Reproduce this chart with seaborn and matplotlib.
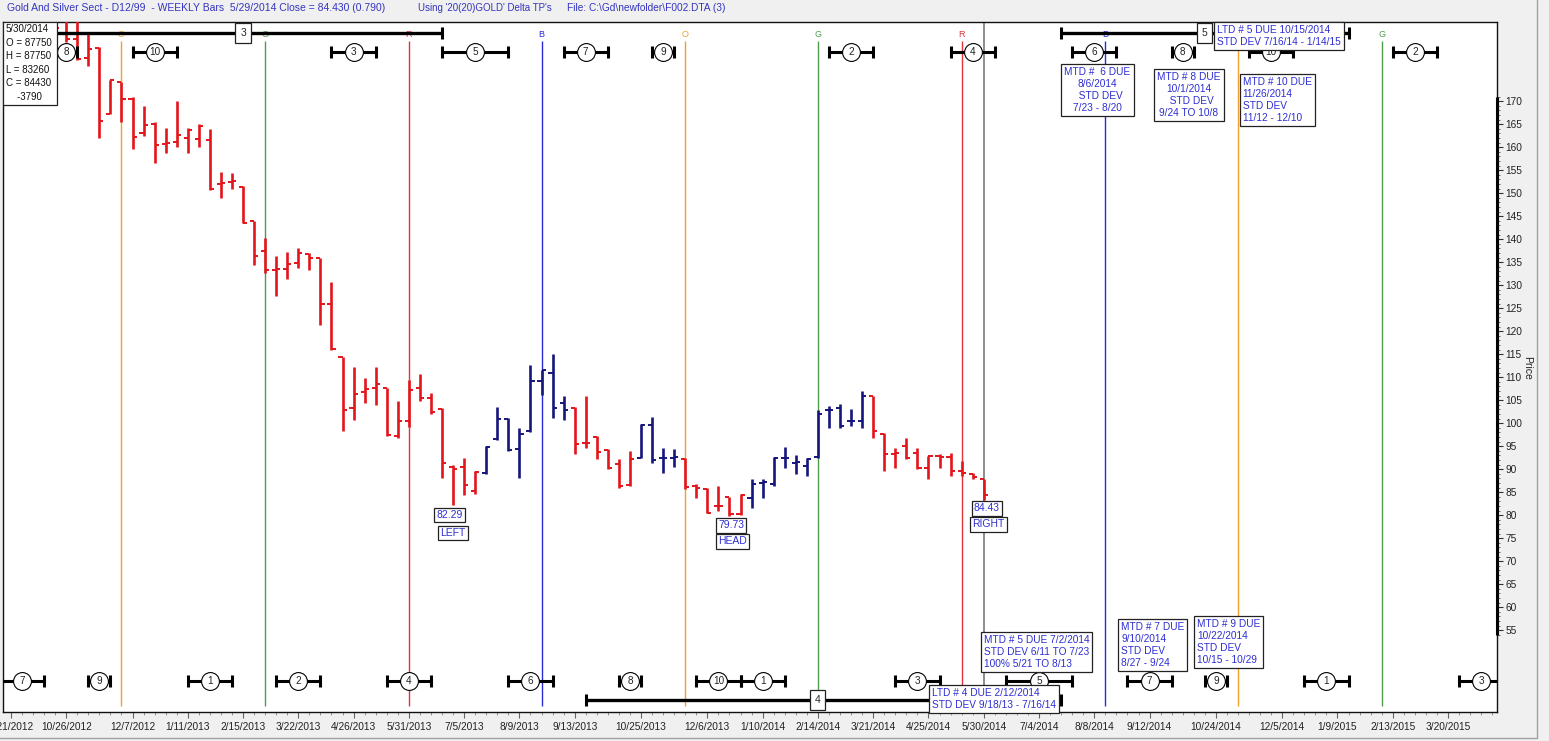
import numpy as np
import pandas as pd
import matplotlib
matplotlib.use("Agg")
import matplotlib.pyplot as plt
import matplotlib.dates as mdates
from matplotlib.lines import Line2D
from matplotlib.patches import Rectangle
import seaborn as sns

# weekly bars (Fridays) 10/19/2012 .. 5/30/2014
bar_dates = pd.date_range("2012-10-19", "2014-05-30", freq="7D")
opens = [190.0, 189.0, 183.5, 179.4, 181.6, 167.2, 174.1, 170.5, 163.0, 165.0,
         160.6, 161.1, 161.9, 161.7, 161.5, 151.9, 152.4, 151.3, 143.9, 137.5,
         133.2, 133.6, 134.9, 136.7, 135.8, 126.0, 114.4, 103.3, 106.8, 107.7,
         107.7, 97.2, 100.5, 107.7, 105.5, 103.1, 90.5, 90.5, 85.2, 89.2,
         96.6, 100.9, 94.4, 98.3, 109.2, 111.0, 104.4, 103.3, 95.7, 97.0,
         94.2, 91.1, 86.6, 92.4, 99.6, 92.4, 92.4, 92.2, 86.3, 85.7,
         82.0, 83.9, 80.2, 83.7, 87.0, 86.8, 92.4, 91.4, 90.7, 92.7,
         102.9, 103.3, 100.5, 100.5, 105.8, 97.7, 93.3, 95.0, 93.5, 90.3,
         92.9, 92.7, 89.6, 89.0, 87.75]
highs = [195.0, 194.0, 192.0, 184.8, 181.8, 174.6, 174.1, 170.9, 168.9, 165.4,
         164.1, 170.0, 164.1, 165.0, 163.9, 154.5, 154.3, 151.5, 143.9, 140.3,
         136.4, 137.1, 138.0, 136.9, 135.8, 130.6, 114.4, 112.3, 109.9, 112.3,
         107.7, 104.9, 109.4, 110.7, 106.6, 103.3, 90.9, 92.4, 89.6, 95.0,
         103.5, 101.2, 99.0, 112.7, 111.6, 115.1, 106.0, 103.5, 106.0, 97.2,
         94.4, 92.2, 94.0, 99.9, 101.4, 94.6, 94.4, 92.4, 86.8, 85.9,
         86.3, 83.9, 84.6, 87.8, 87.8, 92.7, 94.8, 93.1, 92.4, 102.9,
         103.8, 104.2, 103.1, 107.0, 106.0, 97.9, 94.6, 96.8, 94.6, 92.9,
         93.3, 93.5, 91.8, 89.2, 87.75]
lows = [184.5, 182.8, 179.0, 177.6, 161.9, 167.2, 165.4, 159.5, 162.4, 156.6,
        158.7, 160.0, 158.7, 160.0, 150.6, 148.9, 151.0, 143.4, 134.3, 132.7,
        127.7, 131.4, 133.8, 133.2, 121.4, 116.0, 98.3, 100.7, 104.4, 104.0,
        97.2, 96.8, 99.2, 104.9, 102.0, 88.1, 82.29, 84.4, 84.6, 88.9,
        96.4, 94.0, 88.1, 98.1, 106.2, 101.2, 100.7, 93.3, 94.6, 92.2,
        90.0, 85.9, 86.3, 92.4, 91.4, 89.2, 90.5, 85.7, 83.7, 80.5,
        80.9, 79.73, 80.0, 81.5, 83.7, 86.3, 90.3, 89.0, 88.5, 92.4,
        99.0, 99.0, 99.4, 99.0, 96.8, 89.6, 90.3, 92.2, 90.0, 87.8,
        90.3, 88.5, 88.5, 87.8, 83.26]
closes = [185.9, 183.5, 179.2, 181.3, 165.6, 174.6, 170.4, 162.2, 164.8, 160.4,
          160.8, 162.6, 163.7, 164.6, 150.8, 152.1, 152.6, 143.6, 136.4, 133.2,
          133.4, 134.7, 136.9, 135.8, 126.0, 116.2, 102.9, 106.4, 107.5, 108.6,
          97.5, 100.5, 107.3, 105.5, 102.5, 91.4, 90.1, 86.5, 89.4, 94.8,
          100.9, 94.2, 97.7, 109.2, 111.6, 103.3, 102.9, 95.5, 95.7, 93.8,
          90.3, 86.3, 92.2, 99.6, 92.0, 92.4, 92.6, 86.1, 85.9, 80.5,
          82.0, 80.2, 84.4, 86.8, 87.2, 92.4, 92.4, 91.6, 92.2, 102.0,
          102.9, 99.4, 100.5, 106.0, 98.3, 93.3, 93.5, 92.4, 90.3, 92.9,
          92.7, 89.6, 89.2, 88.22, 84.43]
# trend runs: first bar of each coloured run
trend_runs = [("2012-10-19", "red"), ("2013-07-19", "blue"), ("2013-09-13", "red"),
              ("2013-10-25", "blue"), ("2013-11-22", "red"), ("2014-01-03", "blue"),
              ("2014-03-21", "red")]

# cycle turn lines
cycle_dates = ["2012-11-30", "2013-03-01", "2013-05-31", "2013-08-23", "2013-11-22",
               "2014-02-14", "2014-05-16", "2014-08-15", "2014-11-07", "2015-02-06"]
cycle_letters = ["O", "G", "R", "B", "O", "G", "R", "B", "O", "G"]

# MTD ranges, top row / bottom row (centre date, number, half width in days)
top_dates = ["2012-10-26", "2012-12-21", "2013-04-26", "2013-07-12", "2013-09-20", "2013-11-08",
             "2014-03-07", "2014-05-23", "2014-08-08", "2014-10-03", "2014-11-28", "2015-02-27"]
top_nums = [8, 10, 3, 5, 7, 9, 2, 4, 6, 8, 10, 2]
top_half = [7, 14, 14, 21, 14, 7, 14, 14, 14, 7, 14, 14]
bot_dates = ["2012-09-28", "2012-11-16", "2013-01-25", "2013-03-22", "2013-05-31", "2013-08-16",
             "2013-10-18", "2013-12-13", "2014-01-10", "2014-04-18", "2014-07-04", "2014-09-12",
             "2014-10-24", "2015-01-02", "2015-04-10"]
bot_nums = [7, 9, 1, 2, 4, 6, 8, 10, 1, 3, 5, 7, 9, 1, 3]
bot_half = [14, 7, 14, 14, 14, 14, 7, 14, 14, 14, 21, 14, 7, 14, 14]

# LTD ranges
ltd_nums = [3, 4, 5]
ltd_due = ["2013-02-15", "2014-02-14", "2014-10-17"]
ltd_start = ["2012-10-12", "2013-09-20", "2014-07-18"]
ltd_end = ["2013-06-21", "2014-07-18", "2015-01-16"]
ltd_row = ["top", "bottom", "top"]

tick_dates = ["2012-09-21", "2012-10-26", "2012-12-07", "2013-01-11", "2013-02-15", "2013-03-22",
              "2013-04-26", "2013-05-31", "2013-07-05", "2013-08-09", "2013-09-13", "2013-10-25",
              "2013-12-06", "2014-01-10", "2014-02-14", "2014-03-21", "2014-04-25", "2014-05-30",
              "2014-07-04", "2014-08-08", "2014-09-12", "2014-10-24", "2014-12-05", "2015-01-09",
              "2015-02-13", "2015-03-20"]
tick_labels = ["9/21/2012", "10/26/2012", "12/7/2012", "1/11/2013", "2/15/2013", "3/22/2013",
               "4/26/2013", "5/31/2013", "7/5/2013", "8/9/2013", "9/13/2013", "10/25/2013",
               "12/6/2013", "1/10/2014", "2/14/2014", "3/21/2014", "4/25/2014", "5/30/2014",
               "7/4/2014", "8/8/2014", "9/12/2014", "10/24/2014", "12/5/2014", "1/9/2015",
               "2/13/2015", "3/20/2015"]

sns.set_theme(style="white")
plt.rcParams["font.family"] = ["Liberation Sans", "DejaVu Sans"]

TXT_BLUE = "#2e2ed2"
trend_color = {"red": "#e3151b", "blue": "#15157c"}
cycle_color = {"O": "#f0a030", "G": "#4e9a4e", "R": "#e2323c", "B": "#2a2ad8"}

def dn(d):
    return mdates.date2num(pd.Timestamp(d))

df = pd.DataFrame({"date": bar_dates, "open": opens, "high": highs, "low": lows, "close": closes})
df["x"] = mdates.date2num(df["date"])
run_starts = pd.to_datetime([r[0] for r in trend_runs]).values
idx = np.searchsorted(run_starts, df["date"].values, side="right") - 1
df["trend"] = [trend_runs[i][1] for i in idx]

fig = plt.figure(figsize=(15.49, 7.41), dpi=100, facecolor="#f0f0f0")
ax = fig.add_axes([3 / 1549, 1 - 712 / 741, 1494 / 1549, 690 / 741])
ax.set_facecolor("white")
ax.set_xlim(dn("2012-09-16"), dn("2015-04-20"))
ax.set_ylim(37.2, 187.2)

# cycle lines
for d, let in zip(cycle_dates, cycle_letters):
    c = cycle_color[let]
    ax.vlines(dn(d), 38.5, 183.0, color=c, lw=1.0, zorder=1)
    ax.text(dn(d), 184.4, let, color=c, fontsize=6.5, ha="center", va="center", zorder=2)

ax.axvline(dn("2014-05-30"), color="#8c8c8c", lw=1.4, zorder=1.5)

# OHLC bars
tw = 2.6
for trend, sub in df.groupby("trend"):
    c = trend_color[trend]
    ax.vlines(sub["x"], sub["low"], sub["high"], color=c, lw=1.9, zorder=3)
    ax.hlines(sub["open"], sub["x"] - tw, sub["x"], color=c, lw=1.4, zorder=3)
    ax.hlines(sub["close"], sub["x"], sub["x"] + tw, color=c, lw=1.4, zorder=3)

# MTD range markers
TOP_ROW, BOT_ROW = 180.65, 43.9
for dates, nums, half, lvl in [(top_dates, top_nums, top_half, TOP_ROW),
                               (bot_dates, bot_nums, bot_half, BOT_ROW)]:
    xs = np.array([dn(d) for d in dates])
    hw = np.array(half)
    ax.hlines([lvl] * len(xs), xs - hw, xs + hw, color="black", lw=2.2, zorder=4)
    ax.vlines(np.r_[xs - hw, xs + hw], lvl - 1.35, lvl + 1.35, color="black", lw=2.2, zorder=4)
    sns.scatterplot(x=xs, y=[lvl] * len(xs), s=165, color="white", edgecolor="black",
                    linewidth=0.8, zorder=5, ax=ax, legend=False)
    for x, n in zip(xs, nums):
        ax.text(x, lvl, str(n), fontsize=7.2, ha="center", va="center", color="#222222", zorder=6)

# LTD range bars
for n, due, st, en, row in zip(ltd_nums, ltd_due, ltd_start, ltd_end, ltd_row):
    lvl = 184.8 if row == "top" else 39.8
    ax.hlines(lvl, dn(st), dn(en), color="black", lw=2.4, zorder=4)
    ax.vlines([dn(st), dn(en)], lvl - 1.4, lvl + 1.4, color="black", lw=2.2, zorder=4)
    ax.text(dn(due), lvl, str(n), fontsize=7.5, ha="center", va="center", zorder=7,
            bbox=dict(boxstyle="square,pad=0.45", fc="white", ec="#222222", lw=0.9))

box = dict(boxstyle="square,pad=0.3", fc="white", ec="#222222", lw=0.9)
trans = ax.get_xaxis_transform()
notes = [
    ("MTD #  6 DUE\n8/6/2014\n  STD DEV\n7/23 - 8/20", "2014-08-10", 0.901, "center"),
    ("MTD # 8 DUE\n10/1/2014\n  STD DEV\n9/24 TO 10/8", "2014-10-07", 0.894, "center"),
    ("MTD # 10 DUE\n11/26/2014\nSTD DEV\n11/12 - 12/10", "2014-11-10", 0.887, "left"),
    ("LTD # 5 DUE 10/15/2014\nSTD DEV 7/16/14 - 1/14/15", "2014-10-25", 0.980, "left"),
    ("MTD # 5 DUE 7/2/2014\nSTD DEV 6/11 TO 7/23\n100% 5/21 TO 8/13", "2014-05-30", 0.087, "left"),
    ("LTD # 4 DUE 2/12/2014\nSTD DEV 9/18/13 - 7/16/14", "2014-04-27", 0.019, "left"),
    ("MTD # 7 DUE\n9/10/2014\nSTD DEV\n8/27 - 9/24", "2014-08-25", 0.097, "left"),
    ("MTD # 9 DUE\n10/22/2014\nSTD DEV\n10/15 - 10/29", "2014-10-12", 0.101, "left"),
]
for txt, d, y, ha in notes:
    ax.text(dn(d), y, txt, transform=trans, fontsize=7.3, color=TXT_BLUE, ha=ha, va="center",
            multialignment=ha, linespacing=1.25, zorder=8, bbox=box)

pattern = [("82.29", "2013-06-26", 80.0), ("LEFT", "2013-06-28", 76.1),
           ("79.73", "2013-12-21", 77.8), ("HEAD", "2013-12-22", 74.3),
           ("84.43", "2014-06-01", 81.5), ("RIGHT", "2014-06-02", 78.0)]
for txt, d, y in pattern:
    ax.text(dn(d), y, txt, fontsize=7.5, color=TXT_BLUE, ha="center", va="center", zorder=8,
            bbox=dict(boxstyle="square,pad=0.22", fc="white", ec="#222222", lw=0.9))

# info box top-left
ax.add_patch(Rectangle((0, (712 - 105) / 690), 54 / 1494, 83 / 690, transform=ax.transAxes,
                       fc="white", ec="#222222", lw=0.9, zorder=9))
ax.text(3 / 1494, (712 - 24) / 690, "5/30/2014\nO = 87750\nH = 87750\nL = 83260\nC = 84430\n    -3790",
        transform=ax.transAxes, fontsize=7, color="#111111", ha="left", va="top",
        linespacing=1.45, zorder=10)

# axes styling
for sp in ax.spines.values():
    sp.set_color("#111111")
    sp.set_linewidth(1.0)
ax.set_xticks([dn(d) for d in tick_dates])
ax.set_xticklabels(tick_labels)
ax.xaxis.set_minor_locator(mdates.WeekdayLocator(byweekday=mdates.FR))
ax.tick_params(axis="x", which="major", bottom=True, length=4, width=0.8, color="#666666",
               labelsize=7.3, labelcolor="#222222", pad=3)
ax.tick_params(axis="x", which="minor", bottom=True, length=2.5, width=0.6, color="#888888")
ax.set_yticks(range(55, 171, 5))
ax.yaxis.set_minor_locator(matplotlib.ticker.FixedLocator(range(54, 172)))
ax.tick_params(axis="y", which="major", left=False, right=True, labelleft=False, labelright=True,
               length=4, width=0.8, color="#333333", labelsize=7.3, labelcolor="#222222", pad=2)
ax.tick_params(axis="y", which="minor", left=False, right=True, length=2, width=0.6, color="#555555")
ax.plot([1, 1], [54, 171], transform=ax.get_yaxis_transform(), color="black", lw=2.2,
        clip_on=False, solid_capstyle="butt", zorder=10)

fig.text(1527 / 1549, 1 - 368 / 741, "Price", rotation=270, fontsize=7.5, color="#222222",
         ha="center", va="center")

# header line
fig.text(7 / 1549, 1 - 8 / 741, "Gold And Silver Sect - D12/99  - WEEKLY Bars  5/29/2014 Close = 84.430 (0.790)",
         fontsize=7.45, color="#3535c0", ha="left", va="center")
fig.text(418 / 1549, 1 - 8 / 741, "Using '20(20)GOLD' Delta TP's", fontsize=7.0, color="#3535c0",
         ha="left", va="center")
fig.text(567 / 1549, 1 - 8 / 741, r"File: C:\Gd\newfolder\F002.DTA (3)", fontsize=7.3, color="#3535c0",
         ha="left", va="center")

fig.add_artist(Line2D([1537 / 1549, 1537 / 1549], [1 - 738 / 741, 1], color="#a0a0a0", lw=1))
fig.add_artist(Line2D([0, 1537 / 1549], [1 - 738 / 741, 1 - 738 / 741], color="#a0a0a0", lw=1))

fig.savefig("out.png", dpi=100, facecolor=fig.get_facecolor())
